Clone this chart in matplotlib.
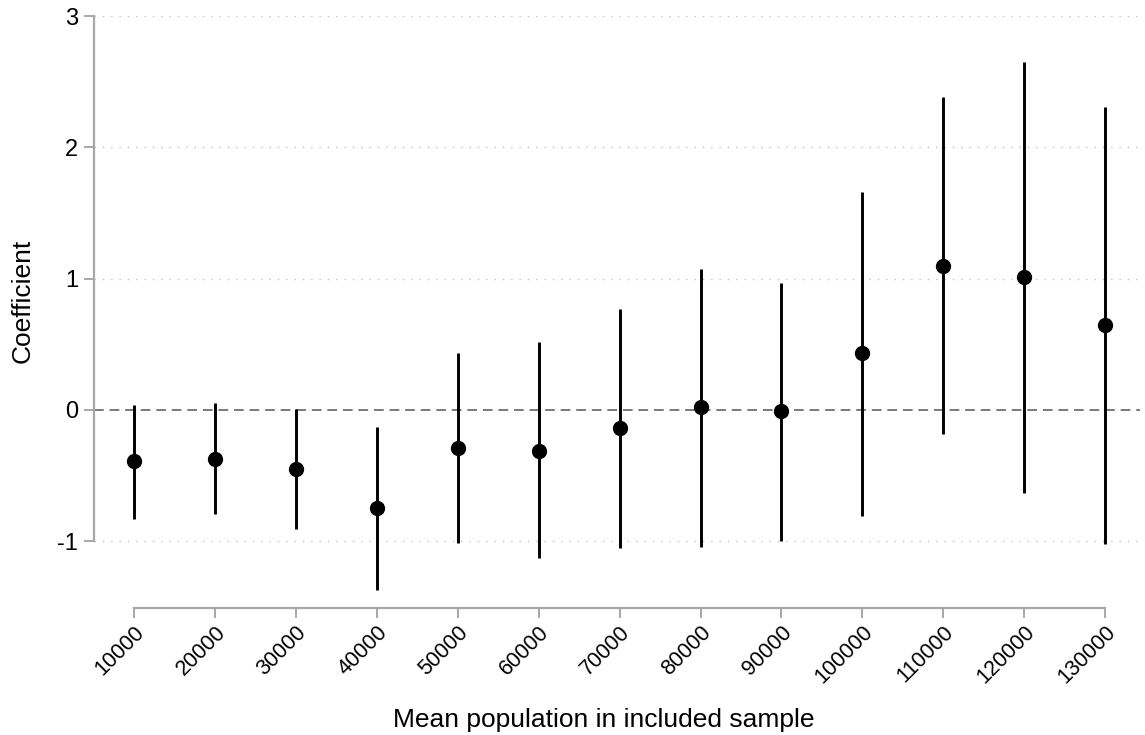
import matplotlib
matplotlib.use("Agg")
import matplotlib.pyplot as plt
import numpy as np

# =========================
# Data
# =========================
population = [10000, 20000, 30000, 40000, 50000, 60000, 70000,
              80000, 90000, 100000, 110000, 120000, 130000]
coef = [-0.39, -0.37, -0.45, -0.75, -0.29, -0.31, -0.14,
        0.02, -0.01, 0.43, 1.10, 1.01, 0.65]
ci_low = [-0.83, -0.79, -0.91, -1.37, -1.01, -1.13, -1.05,
          -1.04, -1.00, -0.81, -0.18, -0.63, -1.02]
ci_high = [0.04, 0.05, 0.01, -0.13, 0.43, 0.52, 0.77,
           1.07, 0.97, 1.66, 2.38, 2.65, 2.31]

plt.rcParams["font.family"] = ["Liberation Sans", "DejaVu Sans"]

fig = plt.figure(figsize=(11.45, 7.35), dpi=100)
ax = fig.add_axes([0.0821, 0.1732, 0.9135, 0.8050])

axis_grey = "#a8a8a8"

# grid lines (dotted) except at zero
for yv in [-1, 1, 2, 3]:
    ax.axhline(yv, color="#c4c4c4", linestyle=(0, (1, 5)), linewidth=1.0, zorder=0)
ax.axhline(0, color="#7a7a7a", linestyle=(0, (5, 3)), linewidth=1.4, zorder=1)

# confidence intervals and point estimates
ax.vlines(population, ci_low, ci_high, color="black", linewidth=2.1, zorder=2)
ax.plot(population, coef, "o", color="black", markersize=10, zorder=3)

# =========================
# Axes formatting
# =========================
ax.set_xlim(5050, 134300)
ax.set_ylim(-1.506, 3.0)

ax.set_xticks(population)
ax.set_xticklabels([str(p) for p in population], rotation=45,
                   ha="right", va="top", rotation_mode="anchor", fontsize=15.5)
ax.set_yticks([-1, 0, 1, 2, 3])
ax.set_yticklabels(["-1", "0", "1", "2", "3"], fontsize=17)

ax.spines["top"].set_visible(False)
ax.spines["right"].set_visible(False)
ax.spines["left"].set_bounds(-1, 3)
ax.spines["bottom"].set_bounds(10000, 130000)
for s in ["left", "bottom"]:
    ax.spines[s].set_color(axis_grey)
    ax.spines[s].set_linewidth(1.6)
ax.tick_params(axis="both", colors=axis_grey, labelcolor="black",
               length=7.5, width=1.4, direction="out", pad=4)
ax.tick_params(axis="x", pad=2.5)

ax.set_xlabel("Mean population in included sample", fontsize=19)
ax.set_ylabel("Coefficient", fontsize=19)
ax.xaxis.set_label_coords(0.487, -0.170)
ax.yaxis.set_label_coords(-0.057, 0.519)

fig.savefig("out.png", dpi=100)
